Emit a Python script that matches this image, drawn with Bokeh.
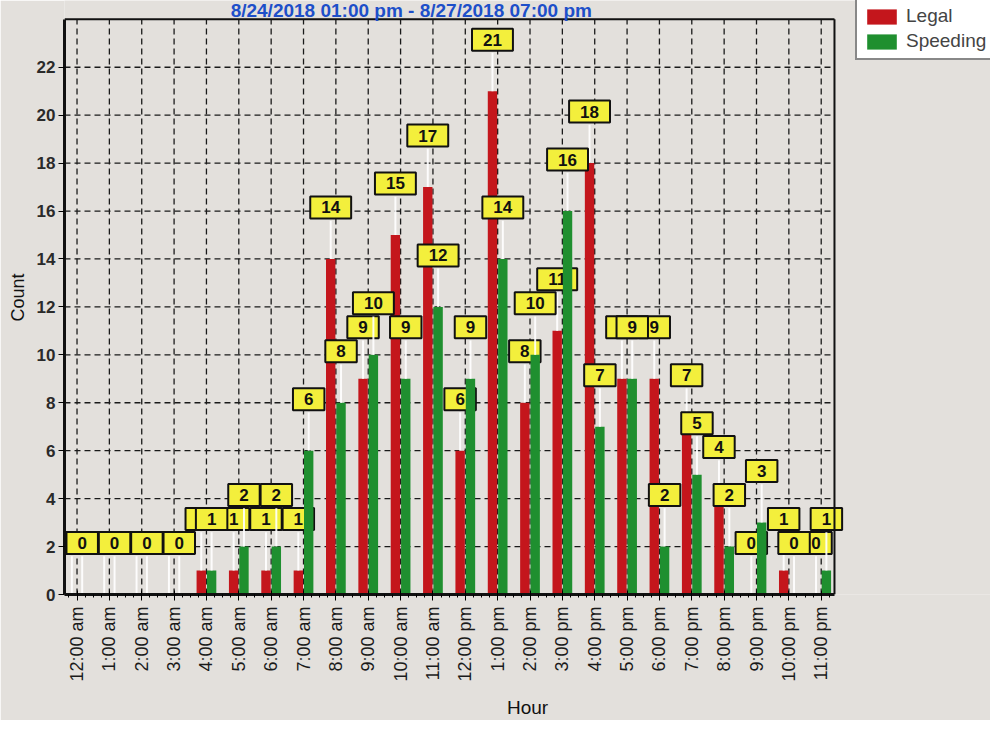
import math
from bokeh.plotting import figure
from bokeh.models import (ColumnDataSource, Range1d, FixedTicker, Legend, LegendItem, Label)
from bokeh.core.properties import value
from bokeh.embed import file_html
from bokeh.resources import INLINE

# ---------------- data ----------------
hours = ["12:00 am", "1:00 am", "2:00 am", "3:00 am", "4:00 am", "5:00 am",
         "6:00 am", "7:00 am", "8:00 am", "9:00 am", "10:00 am", "11:00 am",
         "12:00 pm", "1:00 pm", "2:00 pm", "3:00 pm", "4:00 pm", "5:00 pm",
         "6:00 pm", "7:00 pm", "8:00 pm", "9:00 pm", "10:00 pm", "11:00 pm"]
legal = [0, 0, 0, 0, 1, 1, 1, 1, 14, 9, 15, 17, 6, 21, 8, 11, 18, 9, 9, 7, 4, 0, 1, 0]
speeding = [0, 0, 0, 0, 1, 2, 2, 6, 8, 10, 9, 12, 9, 14, 10, 16, 7, 9, 2, 5, 2, 3, 0, 1]
series_names = ["Legal", "Speeding"]
y_ticks = [0, 2, 4, 6, 8, 10, 12, 14, 16, 18, 20, 22]
title_text = "8/24/2018 01:00 pm - 8/27/2018 07:00 pm"
x_title = "Hour"
y_title = "Count"

# ---------------- style ----------------
BG = "#e3e0dc"
RED = "#c4161c"
GREEN = "#1f8f2f"
YELLOW = "#f3ef3c"
FONT = "Liberation Sans"
DODGE = 0.16
BAR_W = 0.29
LABEL_LIFT = 2.15
LEADER = 1.6
X0, X1 = -0.387, 23.41      # visible plot-area extent (x)
Y0, Y1 = 0, 24              # visible plot-area extent (y)

# the Bokeh frame spans the whole canvas right/top so the title and legend
# (which sit outside the drawn plot box) are not clipped
p = figure(width=990, height=720, output_backend="svg", toolbar_location=None,
           x_range=Range1d(X0, 28.232), y_range=Range1d(Y0, 24.785),
           min_border_left=64, min_border_right=0, min_border_top=0,
           min_border_bottom=120)
p.background_fill_color = BG
p.border_fill_color = BG
p.outline_line_color = None
p.xgrid.visible = False
p.ygrid.visible = False

idx = list(range(len(hours)))
grid_y = y_ticks[1:]

# dashed grid, limited to the plot box
p.segment(x0=idx, y0=[Y0] * len(idx), x1=idx, y1=[Y1] * len(idx),
          line_color="#1a1a1a", line_dash="6 4", line_width=1.3)
p.segment(x0=[X0] * len(grid_y), y0=grid_y, x1=[X1] * len(grid_y), y1=grid_y,
          line_color="#1a1a1a", line_dash="6 4", line_width=1.3)

def series_source(vals, shift):
    xs = [i + shift for i in idx]
    return ColumnDataSource(dict(
        x=xs, top=vals,
        ly=[v + LABEL_LIFT for v in vals],
        l0=vals, l1=[v + LEADER for v in vals],
        t=[str(v) for v in vals]))

renderers = []
for vals, shift, color in ((legal, -DODGE, RED), (speeding, DODGE, GREEN)):
    src = series_source(vals, shift)
    r = p.vbar(x="x", top="top", bottom=0, width=BAR_W, source=src,
               fill_color=color, line_color=None)
    renderers.append(r)
    p.segment(x0="x", y0="l0", x1="x", y1="l1", source=src,
              line_color="white", line_width=2, line_alpha=0.9)
    p.text(x="x", y="ly", text="t", source=src,
           text_font=value(FONT), text_font_size="17px", text_font_style="bold",
           text_align="center", text_baseline="middle", text_color="#111111",
           background_fill_color=YELLOW, border_line_color="#111111",
           border_line_width=2, padding=dict(left=11, right=11, top=5, bottom=5))

# top and right edges of the plot box
p.segment(x0=[X0, X1], y0=[Y1, Y0], x1=[X1, X1], y1=[Y1, Y1],
          line_color="#111111", line_width=2)

# ---------------- axes ----------------
xt = FixedTicker(ticks=idx, minor_ticks=[i / 4 for i in range(-1, 94)])
p.xaxis.ticker = xt
p.xaxis.bounds = (X0, X1)
p.xaxis.major_label_overrides = {i: h for i, h in enumerate(hours)}
p.xaxis.major_label_orientation = math.pi / 2
p.xaxis.major_label_text_font = FONT
p.xaxis.major_label_text_font_size = "18px"
p.xaxis.major_label_text_color = "#1a1a1a"
p.xaxis.major_label_standoff = 6
p.xaxis.axis_line_width = 3
p.xaxis.axis_line_color = "#111111"
p.xaxis.major_tick_in = 4
p.xaxis.major_tick_out = 6
p.xaxis.minor_tick_in = 0
p.xaxis.minor_tick_out = 3
p.xaxis.axis_label = x_title
p.xaxis.axis_label_text_font = FONT
p.xaxis.axis_label_text_font_size = "19px"
p.xaxis.axis_label_text_font_style = "normal"
p.xaxis.axis_label_text_color = "#111111"
p.xaxis.axis_label_standoff = 12

p.yaxis.ticker = FixedTicker(ticks=y_ticks)
p.yaxis.bounds = (Y0, Y1)
p.yaxis.major_label_text_font = FONT
p.yaxis.major_label_text_font_size = "17px"
p.yaxis.major_label_text_font_style = "bold"
p.yaxis.major_label_text_color = "#2a2a2a"
p.yaxis.major_label_standoff = 3
p.yaxis.axis_line_width = 3
p.yaxis.axis_line_color = "#111111"
p.yaxis.major_tick_in = 0
p.yaxis.major_tick_out = 6
p.yaxis.minor_tick_out = 0
p.yaxis.axis_label = y_title
p.yaxis.axis_label_text_font = FONT
p.yaxis.axis_label_text_font_size = "18px"
p.yaxis.axis_label_text_font_style = "normal"
p.yaxis.axis_label_text_color = "#111111"
p.yaxis.axis_label_standoff = 6

# ---------------- title ----------------
p.add_layout(Label(x=10.33, y=24.355, text=title_text, text_font=FONT,
                   text_font_size="19px", text_font_style="bold",
                   text_color="#1d4fc9", text_align="center",
                   text_baseline="middle"))

# ---------------- legend ----------------
legend = Legend(items=[LegendItem(label=n, renderers=[r])
                       for n, r in zip(series_names, renderers)],
                location=(791, 534), orientation="vertical")
legend.glyph_width = 37
legend.glyph_height = 19
legend.label_text_font = FONT
legend.label_text_font_size = "19px"
legend.label_standoff = 6
legend.spacing = 3
legend.padding = 6
legend.margin = 0
legend.border_line_color = "#111111"
legend.border_line_width = 2
legend.background_fill_color = "white"
legend.background_fill_alpha = 1
p.add_layout(legend, "center")

open("out.html", "w").write(file_html(p, INLINE))
